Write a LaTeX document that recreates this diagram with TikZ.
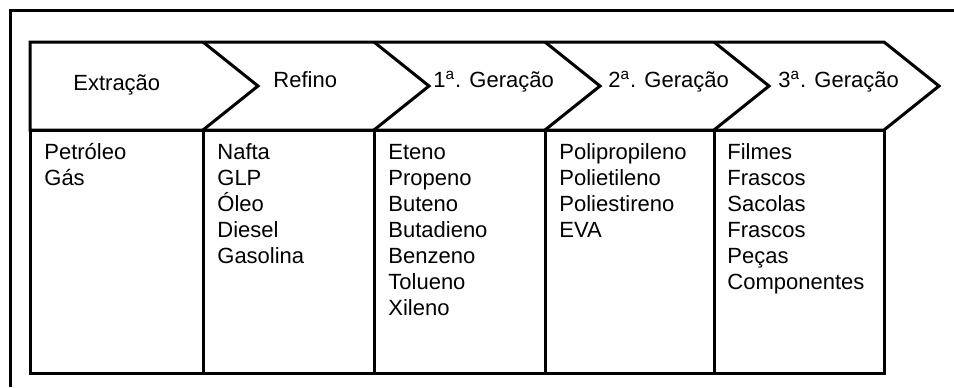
\documentclass[tikz,border=0pt]{standalone}
\usepackage{fontspec}
\setmainfont{Liberation Sans}
\tikzset{
  frameline/.style={line width=1.5pt, line join=miter},
  stagelabel/.style={anchor=base west, inner sep=0pt, font=\fontsize{11}{13.1}\selectfont},
  itemtext/.style={anchor=base west, inner sep=0pt, font=\fontsize{11}{13}\selectfont}
}
\begin{document}
\begin{tikzpicture}[x=0.5pt, y=-0.5pt]
        \useasboundingbox (0,0) rectangle (954,387);
        \draw[frameline] (954,10) -- (10,10) -- (10,387);
        \draw[frameline] (30,42) -- (884,42) -- (939,86) -- (884,130) -- (30,130) -- cycle;
        \foreach \x in {203,374,545,714} {
          \draw[frameline] (\x,42) -- (\x+55,86) -- (\x,130);
        }
        \draw[frameline] (30,130) rectangle (884,373);
        \foreach \x in {203,374,545,714} {
          \draw[frameline] (\x,130) -- (\x,373);
        }
        \node[stagelabel] (extracao) at (73,90) {Extração};
        \node[stagelabel] (refino) at (273,87) {Refino};
        \node[stagelabel] (ger1) at (433,87) {1\textsuperscript{a}. Geração};
        \node[stagelabel] (ger2) at (608,87) {2\textsuperscript{a}. Geração};
        \node[stagelabel] (ger3) at (778,87) {3\textsuperscript{a}. Geração};
        \foreach \item [count=\i] in {Petróleo,Gás}
          \node[itemtext] (materia-\i) at (44,{133+26*\i}) {\item};
        \foreach \item [count=\i] in {Nafta,GLP,Óleo,Diesel,Gasolina}
          \node[itemtext] (derivado-\i) at (217,{133+26*\i}) {\item};
        \foreach \item [count=\i] in {Eteno,Propeno,Buteno,Butadieno,Benzeno,Tolueno,Xileno}
          \node[itemtext] (petroquimico-\i) at (388,{133+26*\i}) {\item};
        \foreach \item [count=\i] in {Polipropileno,Polietileno,Poliestireno,EVA}
          \node[itemtext] (resina-\i) at (559,{133+26*\i}) {\item};
        \foreach \item [count=\i] in {Filmes,Frascos,Sacolas,Frascos,Peças,Componentes}
          \node[itemtext] (produto-\i) at (727,{133+26*\i}) {\item};
\end{tikzpicture}
\end{document}
